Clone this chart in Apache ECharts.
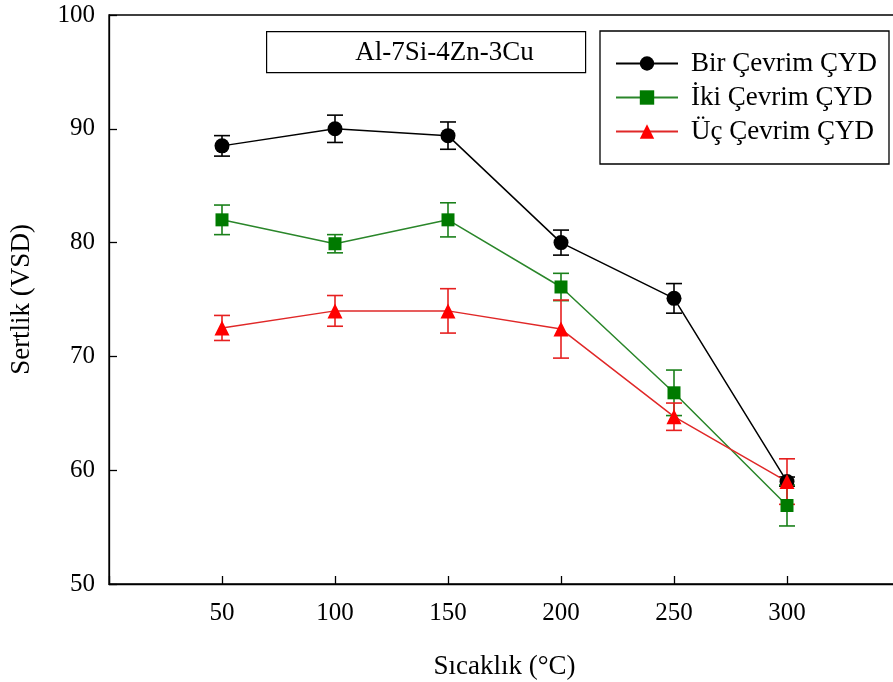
<!DOCTYPE html>
<html>
<head>
<meta charset="utf-8">
<script src="https://cdn.jsdelivr.net/npm/echarts@6/dist/echarts.min.js"></script>
<style>
html,body{margin:0;padding:0;background:#fff;}
#chart{width:893px;height:682px;}
</style>
</head>
<body>
<div id="chart"></div>
<script>
// ---- data ----
const temps = [50, 100, 150, 200, 250, 300];
const seriesNames = ['Bir Çevrim ÇYD', 'İki Çevrim ÇYD', 'Üç Çevrim ÇYD'];
const birMean = [88.5, 90.0, 89.4, 80.0, 75.1, 59.0];
const birErr  = [0.9, 1.2, 1.2, 1.1, 1.3, 0.4];
const ikiMean = [82.0, 79.9, 82.0, 76.1, 66.8, 56.9];
const ikiErr  = [1.3, 0.8, 1.5, 1.2, 2.0, 1.8];
const ucMean  = [72.5, 74.0, 74.0, 72.4, 64.7, 59.0];
const ucErr   = [1.1, 1.35, 1.95, 2.55, 1.2, 2.0];
const xTicks = [50, 100, 150, 200, 250, 300];
const yTicks = [50, 60, 70, 80, 90, 100];
const alloyLabel = 'Al-7Si-4Zn-3Cu';
const xName = 'Sıcaklık (°C)';
const yName = 'Sertlik (VSD)';

const FONT = '"Liberation Serif", "Times New Roman", serif';

function pairs(xs, ys) { return xs.map((x, i) => [x, ys[i]]); }
function errData(xs, m, e) { return xs.map((x, i) => [x, m[i] - e[i], m[i] + e[i]]); }

function errSeries(xs, m, e, color) {
  return {
    type: 'custom',
    silent: true,
    z: 1,
    data: errData(xs, m, e),
    encode: { x: 0, y: [1, 2] },
    renderItem: function (params, api) {
      const x = api.value(0);
      const lo = api.coord([x, api.value(1)]);
      const hi = api.coord([x, api.value(2)]);
      const hw = 8;
      const st = { stroke: color, lineWidth: 1.6 };
      return {
        type: 'group',
        children: [
          { type: 'line', shape: { x1: lo[0], y1: lo[1], x2: hi[0], y2: hi[1] }, style: st },
          { type: 'line', shape: { x1: lo[0] - hw, y1: lo[1], x2: lo[0] + hw, y2: lo[1] }, style: st },
          { type: 'line', shape: { x1: hi[0] - hw, y1: hi[1], x2: hi[0] + hw, y2: hi[1] }, style: st }
        ]
      };
    }
  };
}

function lineSeries(name, xs, m, lineColor, markColor, symbol, size) {
  return {
    name: name,
    type: 'line',
    z: 3,
    data: pairs(xs, m),
    symbol: symbol,
    symbolSize: size,
    showAllSymbol: true,
    lineStyle: { color: lineColor, width: 1.5 },
    itemStyle: { color: markColor, borderWidth: 0 },
    emphasis: { disabled: true },
    animation: false
  };
}

const chart = echarts.init(document.getElementById('chart'), null, { renderer: 'canvas' });
chart.setOption({
  animation: false,
  backgroundColor: '#fff',
  grid: {
    left: 109, top: 15, width: 791, height: 569,
    outerBoundsMode: 'none', containLabel: false,
    show: true, borderColor: '#000', borderWidth: 1.3, backgroundColor: 'transparent'
  },
  xAxis: {
    type: 'value', min: 0, max: 350, interval: 50,
    axisLine: { show: true, onZero: false, lineStyle: { color: '#000', width: 1.3 } },
    axisTick: { show: true, inside: true, length: 8, lineStyle: { color: '#000', width: 1.3 } },
    axisLabel: {
      color: '#000', fontFamily: FONT, fontSize: 25, margin: 17,
      formatter: v => (xTicks.indexOf(v) >= 0 ? String(v) : '')
    },
    splitLine: { show: false },
    name: xName, nameLocation: 'middle', nameGap: 69,
    nameTextStyle: { color: '#000', fontFamily: FONT, fontSize: 27 }
  },
  yAxis: {
    type: 'value', min: 50, max: 100, interval: 10,
    axisLine: { show: true, onZero: false, lineStyle: { color: '#000', width: 1.3 } },
    axisTick: { show: true, inside: true, length: 8, lineStyle: { color: '#000', width: 1.3 } },
    axisLabel: {
      color: '#000', fontFamily: FONT, fontSize: 25, margin: 14,
      formatter: v => (yTicks.indexOf(v) >= 0 ? String(v) : '')
    },
    splitLine: { show: false },
    name: yName, nameLocation: 'middle', nameGap: 74,
    nameTextStyle: { color: '#000', fontFamily: FONT, fontSize: 27 }
  },
  legend: {
    data: seriesNames,
    orient: 'vertical',
    left: 600, top: 31,
    padding: [19, 12, 19, 15],
    itemGap: 7,
    itemWidth: 62, itemHeight: 18,
    backgroundColor: '#fff',
    borderColor: '#000', borderWidth: 1.3,
    selectedMode: false,
    textStyle: { color: '#000', fontFamily: FONT, fontSize: 27, lineHeight: 26, padding: [0, 0, 0, 8] }
  },
  graphic: [
    {
      type: 'group', left: 266, top: 31,
      children: [
        { type: 'rect', shape: { x: 0, y: 0, width: 319, height: 41 }, style: { fill: '#fff', stroke: '#000', lineWidth: 1.2 } },
        { type: 'text', x: 178, y: 21, style: { text: alloyLabel, font: '27px ' + FONT, fill: '#000', textAlign: 'center', textVerticalAlign: 'middle' } }
      ]
    }
  ],
  series: [
    errSeries(temps, birMean, birErr, '#000'),
    errSeries(temps, ikiMean, ikiErr, '#1a801a'),
    errSeries(temps, ucMean, ucErr, '#e62020'),
    lineSeries(seriesNames[0], temps, birMean, '#000', '#000', 'circle', 15),
    lineSeries(seriesNames[1], temps, ikiMean, '#2a862a', '#007a00', 'rect', 13),
    lineSeries(seriesNames[2], temps, ucMean, '#e02828', '#ff0000', 'triangle', 15)
  ]
});
</script>
</body>
</html>
